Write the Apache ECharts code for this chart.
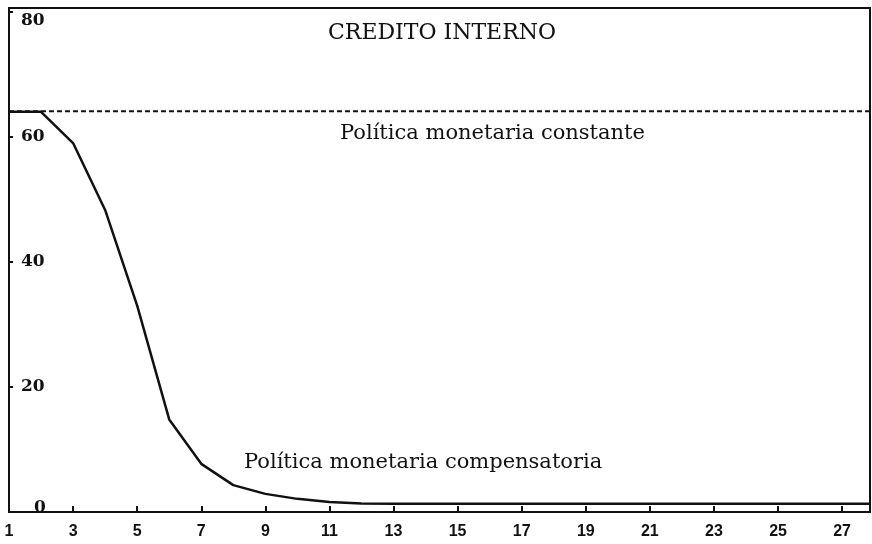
<!DOCTYPE html>
<html>
<head>
<meta charset="utf-8">
<script src="https://cdn.jsdelivr.net/npm/echarts@6/dist/echarts.min.js"></script>
<style>html,body{margin:0;padding:0;background:#fff}#c{width:872px;height:544px}</style>
</head>
<body>
<div id="c"></div>
<script>
// Data
const periods = [1,2,3,4,5,6,7,8,9,10,11,12,13,14,15,16,17,18,19,20,21,22,23,24,25,26,27,27.87];
const compensatoria = [64,64,59,48.3,33,14.8,7.7,4.3,2.9,2.1,1.6,1.35,1.3,1.3,1.3,1.3,1.3,1.3,1.3,1.3,1.3,1.3,1.3,1.3,1.3,1.3,1.3,1.3];
const constantePeriods = [1, 27.87];
const constante = [64.1, 64.1];
const xTicks = [1,3,5,7,9,11,13,15,17,19,21,23,25,27];
const yTicks = [0,20,40,60,80];
const titleText = 'CREDITO INTERNO';
const labelConst = 'Política monetaria constante';
const labelComp = 'Política monetaria compensatoria';

const chart = echarts.init(document.getElementById('c'));
const serif = '"DejaVu Serif", "Liberation Serif", serif';
chart.setOption({
  animation: false,
  backgroundColor: '#fff',
  title: {
    text: titleText, left: 437, top: 17, textAlign: 'center',
    textStyle: { fontFamily: serif, fontSize: 22, fontWeight: 'normal', color: '#111' }
  },
  grid: { left: 9, right: 2, top: 8, bottom: 32, show: true, borderColor: '#111', borderWidth: 2 },
  xAxis: {
    type: 'value', min: 1, max: 27.87,
    splitLine: { show: false },
    axisLine: { show: true, lineStyle: { color: '#111', width: 2 } },
    axisTick: { show: true, inside: true, length: 6, customValues: xTicks, lineStyle: { color: '#111', width: 2 } },
    axisLabel: { customValues: xTicks, margin: 12, color: '#111', fontFamily: '"Liberation Sans", Arial, sans-serif', fontWeight: 'bold', fontSize: 16 }
  },
  yAxis: {
    type: 'value', min: 0, max: 80.6,
    splitLine: { show: false },
    axisLine: { show: true, lineStyle: { color: '#111', width: 2 } },
    axisTick: { show: true, inside: true, length: 4, customValues: yTicks, lineStyle: { color: '#111', width: 2 } },
    axisLabel: {
      inside: true, margin: 12, customValues: yTicks, color: '#111',
      fontFamily: serif, fontWeight: 'bold', fontSize: 17,
      formatter: v => v === 80 ? '{t|80}' : (v === 0 ? '{b|0}' : String(v)),
      rich: {
        t: { fontFamily: serif, fontWeight: 'bold', fontSize: 17, color: '#111', padding: [18, 0, 0, 0] },
        b: { fontFamily: serif, fontWeight: 'bold', fontSize: 17, color: '#111', padding: [0, 0, 8, 13] }
      }
    }
  },
  series: [
    {
      type: 'line', data: constantePeriods.map((p, i) => [p, constante[i]]),
      symbol: 'none', lineStyle: { color: '#111', width: 2, type: [5, 3] }
    },
    {
      type: 'line', data: periods.map((p, i) => [p, compensatoria[i]]),
      symbol: 'none', lineStyle: { color: '#111', width: 2.5 }
    }
  ],
  graphic: [
    { type: 'text', left: 340, top: 123, style: { text: labelConst, fontFamily: serif, fontSize: 21, fill: '#111' } },
    { type: 'text', left: 244, top: 452, style: { text: labelComp, fontFamily: serif, fontSize: 21, fill: '#111' } }
  ]
});
</script>
</body>
</html>
